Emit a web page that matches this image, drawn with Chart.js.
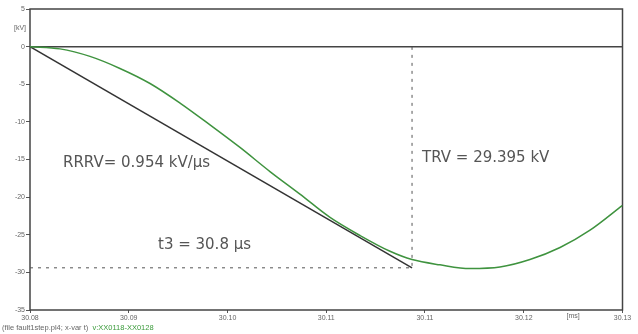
<!DOCTYPE html>
<html>
<head>
<meta charset="utf-8">
<script src="https://cdn.jsdelivr.net/npm/chart.js@4"></script>
<style>
  html, body { margin: 0; padding: 0; background: #fff; }
  #myChart { display: block; }
</style>
</head>
<body>
<canvas id="myChart" width="638" height="334"></canvas>
<script>
// time in ms, voltage in kV
const curveTime = [30.08, 30.08253, 30.08506, 30.08759, 30.09013, 30.09266, 30.09519, 30.09772, 30.10025, 30.10278,
  30.10532, 30.10785, 30.11038, 30.11224, 30.11460, 30.11713, 30.11966, 30.12219, 30.12473, 30.12726, 30.13];
const curveVolt = [0, -0.3, -1.3, -2.9, -4.9, -7.5, -10.4, -13.4, -16.6, -19.6,
  -22.7, -25.1, -27.2, -28.3, -29.0, -29.5, -29.3, -28.3, -26.7, -24.4, -21.1];

const t3Start = 30.08;
const t3End = 30.11224;
const trv = -29.395;

const xTickValues = [30.08, 30.08833, 30.09667, 30.105, 30.11333, 30.12167, 30.13];
const xTickLabels = ['30.08', '30.09', '30.10', '30.11', '30.11', '30.12', '30.13'];
const yTickValues = [5, 0, -5, -10, -15, -20, -25, -30, -35];

const ctx = document.getElementById('myChart');

const frame = {
  id: 'frame',
  beforeDatasetsDraw(chart) {
    const c = chart.ctx, a = chart.chartArea, y = chart.scales.y;
    c.save();
    c.strokeStyle = '#444';
    c.lineWidth = 1.5;
    c.strokeRect(a.left, a.top, a.right - a.left, a.bottom - a.top);
    const y0 = y.getPixelForValue(0);
    c.beginPath();
    c.moveTo(a.left, y0);
    c.lineTo(a.right, y0);
    c.stroke();
    c.restore();
  },
  afterDraw(chart) {
    const c = chart.ctx, x = chart.scales.x, y = chart.scales.y;
    c.save();
    c.fillStyle = '#555';
    c.font = '15px "DejaVu Sans", sans-serif';
    c.textBaseline = 'middle';
    c.textAlign = 'left';
    c.fillText('RRRV= 0.954 kV/\u00b5s', 63, 163);
    c.fillText('TRV = 29.395 kV', 422, 158);
    c.fillText('t3 = 30.8 \u00b5s', 158, 245);
    c.font = '7px "Liberation Sans", Arial, sans-serif';
    c.fillStyle = '#666';
    c.textAlign = 'center';
    c.fillText('[ms]', (x.getPixelForValue(xTickValues[5]) + x.getPixelForValue(xTickValues[6])) / 2, 316);
    c.textAlign = 'right';
    c.fillText('[kV]', 26, y.getPixelForValue(2.5));
    c.textAlign = 'left';
    c.font = '7.5px "Liberation Sans", Arial, sans-serif';
    const s = '(file fault1step.pl4; x-var t)  ';
    c.fillText(s, 2, 328);
    c.fillStyle = '#3a9a3a';
    c.fillText('v:XX0118-XX0128', 2 + c.measureText(s).width, 328);
    c.restore();
  }
};

new Chart(ctx, {
  type: 'line',
  data: {
    datasets: [{
      label: 'v',
      data: curveTime.map((t, i) => ({ x: t, y: curveVolt[i] })),
      borderColor: '#3f933f',
      borderWidth: 1.5,
      pointRadius: 0,
      cubicInterpolationMode: 'monotone',
      order: 1
    }, {
      label: 'RRRV',
      data: [{ x: t3Start, y: 0 }, { x: t3End, y: trv }],
      borderColor: '#333',
      borderWidth: 1.5,
      pointRadius: 0,
      order: 2
    }, {
      label: 'TRV',
      data: [{ x: t3Start, y: trv }, { x: t3End, y: trv }, { x: t3End, y: 0 }],
      borderColor: '#555',
      borderWidth: 1,
      borderDash: [3, 5],
      pointRadius: 0,
      order: 3
    }]
  },
  options: {
    responsive: false,
    animation: false,
    layout: { padding: { top: 9, right: 15.5, left: 0, bottom: 0 } },
    plugins: { legend: { display: false }, tooltip: { enabled: false } },
    scales: {
      x: {
        type: 'linear',
        min: 30.08,
        max: 30.13,
        afterBuildTicks: s => { s.ticks = xTickValues.map(v => ({ value: v })); },
        afterFit: s => { s.height = 24; },
        ticks: {
          autoSkip: false,
          maxRotation: 0,
          padding: 1,
          color: '#666',
          font: { size: 7, family: '"Liberation Sans", Arial, sans-serif' },
          callback: (v, i) => xTickLabels[i]
        },
        grid: { drawOnChartArea: false, tickLength: 3, color: '#555' },
        border: { display: false }
      },
      y: {
        min: -35,
        max: 5,
        afterBuildTicks: s => { s.ticks = yTickValues.map(v => ({ value: v })); },
        afterFit: s => { s.width = 30; },
        ticks: {
          padding: 1,
          color: '#666',
          font: { size: 7, family: '"Liberation Sans", Arial, sans-serif' }
        },
        grid: { drawOnChartArea: false, tickLength: 4, color: '#555' },
        border: { display: false }
      }
    }
  },
  plugins: [frame]
});
</script>
</body>
</html>
